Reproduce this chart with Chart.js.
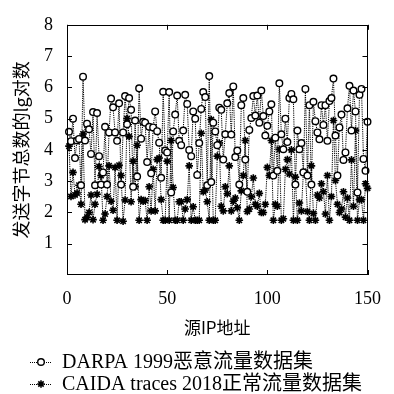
<!DOCTYPE html>
<html>
<head>
<meta charset="utf-8">
<script src="https://cdn.jsdelivr.net/npm/chart.js@4.4.1/dist/chart.umd.min.js"></script>
<style>
html,body{margin:0;padding:0;background:#fff;}
#wrap{width:394px;height:394px;position:relative;}
</style>
</head>
<body>
<div id="wrap"><canvas id="c" width="394" height="394"></canvas></div>
<script>
// ---- data ----
const sourceIps = Array.from({length: 150}, (_, i) => i + 1);
const darpaLabel = 'DARPA 1999恶意流量数据集';
const caidaLabel = 'CAIDA traces 2018正常流量数据集';
const darpa1999 = [
  4.58,4.28,5.0,3.74,4.3,4.35,2.87,6.34,4.3,4.84,
  4.66,3.87,5.21,2.87,5.18,3.8,2.89,3.28,4.74,2.89,
  4.56,5.64,5.36,4.56,4.29,5.49,2.89,4.56,5.72,4.82,
  5.66,5.28,2.82,4.94,3.15,5.97,4.36,4.9,4.87,3.61,
  4.74,3.25,4.72,5.23,4.6,4.23,3.11,5.86,3.98,3.92,
  5.85,2.64,4.59,5.13,5.74,4.29,4.15,4.62,5.76,5.47,
  4.0,3.8,5.23,5.0,3.2,4.22,5.31,5.85,5.69,2.87,
  6.36,2.97,4.87,4.59,4.15,5.35,5.28,3.69,4.5,5.49,
  5.82,4.49,6.03,3.77,3.98,2.89,5.43,5.66,3.69,2.66,
  4.64,5.02,5.72,5.1,5.74,4.87,5.9,5.08,4.46,4.77,
  5.23,5.46,3.18,4.39,3.33,6.13,4.5,4.02,5.0,4.25,
  5.66,5.79,5.62,2.89,4.62,4.02,4.22,3.28,5.95,3.18,
  5.43,2.89,5.54,4.92,4.56,4.34,5.43,4.8,5.43,4.29,
  5.56,5.66,6.28,4.46,3.18,4.72,5.13,3.68,3.92,5.33,
  6.05,4.62,5.9,5.23,2.64,5.76,5.95,3.71,3.33,4.9
];
const caida2018 = [
  4.12,2.51,3.28,2.56,2.62,2.87,2.26,4.51,1.77,1.85,
  2.0,2.56,1.77,2.26,2.58,3.47,3.18,1.75,1.95,2.51,
  3.49,2.36,2.07,3.44,1.75,3.51,3.18,1.72,2.4,5.0,
  4.43,2.34,3.64,2.82,4.15,1.75,2.41,2.36,2.38,1.75,
  2.82,2.05,3.38,2.05,3.69,3.74,2.41,1.75,1.75,3.64,
  1.75,4.3,2.8,1.75,1.75,2.34,2.34,1.75,2.11,2.41,
  3.49,1.75,2.18,1.75,1.75,1.75,4.53,2.66,2.72,2.34,
  1.75,4.97,1.75,1.75,3.8,4.22,2.2,2.05,2.82,2.6,
  3.49,2.05,2.36,2.46,2.15,1.75,2.69,3.18,4.3,2.03,
  2.11,2.5,3.1,2.26,2.2,2.61,2.0,2.0,2.26,3.44,
  3.18,4.3,1.75,2.26,2.2,4.02,1.75,1.8,3.38,3.69,
  3.23,4.0,1.75,3.13,1.75,2.3,2.05,3.3,3.28,2.03,
  1.75,3.49,1.97,1.75,2.56,2.46,2.92,2.66,1.95,3.18,
  1.75,2.51,4.94,3.02,2.26,2.0,2.11,2.66,1.85,2.46,
  1.75,3.68,2.2,4.62,1.75,2.41,2.41,1.75,2.92,2.77
];
const xTickValues = [0, 50, 100, 150];
const yTickValues = [1, 2, 3, 4, 5, 6, 7, 8];
const xTitle = '源IP地址';
const yTitle = '发送字节总数的lg对数';

const serif = '"Liberation Serif", "Noto Sans CJK SC", serif';
const cjk = '"Noto Sans CJK SC", "Liberation Serif", sans-serif';

const toPts = arr => arr.map((v, i) => ({x: sourceIps[i], y: v}));

// frame + inward ticks
const framePlugin = {
  id: 'frame',
  afterDraw(chart) {
    const {ctx, chartArea: a, scales: {x, y}} = chart;
    ctx.save();
    ctx.strokeStyle = '#000';
    ctx.lineWidth = 1;
    ctx.strokeRect(Math.round(a.left) + 0.5, Math.round(a.top) + 0.5,
      Math.round(a.right - a.left) - 1, Math.round(a.bottom - a.top) - 1);
    ctx.beginPath();
    xTickValues.forEach(v => {
      const px = Math.round(x.getPixelForValue(v)) + 0.5;
      ctx.moveTo(px, a.bottom); ctx.lineTo(px, a.bottom - 5);
      ctx.moveTo(px, a.top); ctx.lineTo(px, a.top + 5);
    });
    yTickValues.forEach(v => {
      const py = Math.round(y.getPixelForValue(v)) + 0.5;
      ctx.moveTo(a.left, py); ctx.lineTo(a.left + 5, py);
      ctx.moveTo(a.right, py); ctx.lineTo(a.right - 5, py);
    });
    ctx.stroke();
    ctx.restore();
  }
};

// legend drawn below the chart
const legendPlugin = {
  id: 'customLegend',
  afterDraw(chart) {
    const {ctx} = chart;
    const rows = [362, 384];
    chart.data.datasets.forEach((ds, i) => {
      const yy = rows[i];
      ctx.save();
      ctx.strokeStyle = '#000';
      ctx.lineWidth = 1;
      ctx.setLineDash([1, 1]);
      ctx.beginPath();
      ctx.moveTo(30, yy + 0.5); ctx.lineTo(52, yy + 0.5);
      ctx.stroke();
      ctx.setLineDash([]);
      ctx.fillStyle = ds.pointBackgroundColor;
      ctx.strokeStyle = ds.pointBorderColor;
      ctx.lineWidth = ds.pointBorderWidth;
      Chart.helpers.drawPoint(ctx, {pointStyle: ds.pointStyle, radius: ds.pointRadius, borderWidth: ds.pointBorderWidth, rotation: 0}, 41, yy);
      ctx.fillStyle = '#000';
      ctx.font = '20px ' + serif;
      ctx.textBaseline = 'middle';
      ctx.textAlign = 'left';
      ctx.fillText(ds.label, 62, yy + 1);
      ctx.restore();
    });
  }
};

new Chart(document.getElementById('c'), {
  type: 'line',
  data: {
    datasets: [
      {
        label: darpaLabel,
        data: toPts(darpa1999),
        showLine: true,
        borderColor: '#000',
        borderWidth: 1,
        borderDash: [1.2, 1],
        pointStyle: 'circle',
        pointRadius: 3.3,
        pointBackgroundColor: '#fff',
        pointBorderColor: '#000',
        pointBorderWidth: 1.4,
        tension: 0,
        clip: false
      },
      {
        label: caidaLabel,
        data: toPts(caida2018),
        showLine: true,
        borderColor: '#000',
        borderWidth: 1,
        borderDash: [1.2, 1],
        pointStyle: 'star',
        pointRadius: 3.8,
        pointBackgroundColor: '#000',
        pointBorderColor: '#000',
        pointBorderWidth: 1.6,
        tension: 0,
        clip: false
      }
    ]
  },
  options: {
    responsive: false,
    animation: false,
    devicePixelRatio: 1,
    layout: {padding: {left: 0, right: 16, top: 15, bottom: 56}},
    plugins: {legend: {display: false}, tooltip: {enabled: false}},
    scales: {
      x: {
        type: 'linear', min: 0, max: 150,
        afterBuildTicks: s => { s.ticks = xTickValues.map(v => ({value: v})); },
        afterFit: s => { s.height = 63; },
        grid: {display: false, drawTicks: false},
        border: {display: false},
        ticks: {color: '#000', padding: 13, maxRotation: 0, font: {family: serif, size: 18}},
        title: {display: true, text: xTitle, color: '#000', padding: {top: 4, bottom: 0}, font: {family: cjk, size: 17}}
      },
      y: {
        type: 'linear', min: 0, max: 8,
        afterBuildTicks: s => { s.ticks = yTickValues.map(v => ({value: v})); },
        afterFit: s => { s.width = 67; },
        grid: {display: false, drawTicks: false},
        border: {display: false},
        ticks: {color: '#000', padding: 14, font: {family: serif, size: 18}},
        title: {display: true, text: yTitle, color: '#000', padding: {top: 10, bottom: 0}, font: {family: cjk, size: 18}}
      }
    }
  },
  plugins: [framePlugin, legendPlugin]
});
</script>
</body>
</html>
